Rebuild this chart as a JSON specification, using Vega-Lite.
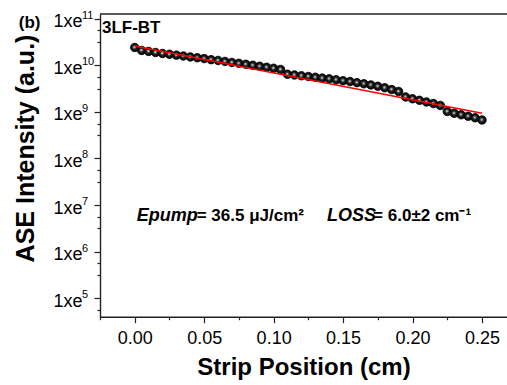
{
  "$schema": "https://vega.github.io/schema/vega-lite/v6.json",
  "width": 407,
  "height": 302.7,
  "autosize": {"type": "none"},
  "padding": {"left": 100, "top": 14, "right": 0, "bottom": 68.3},
  "config": {
    "view": {"stroke": null},
    "font": "Liberation Sans",
    "axis": {
      "grid": false,
      "domainColor": "#222",
      "domainWidth": 1.4,
      "tickColor": "#222",
      "tickWidth": 1.2,
      "labelFont": "Liberation Sans",
      "labelFontSize": 18,
      "labelColor": "#000",
      "labelFlush": false,
      "labelOverlap": false,
      "labelBound": false,
      "titleFont": "Liberation Sans",
      "titleFontSize": 24,
      "titleFontWeight": "bold",
      "titleColor": "#000"
    }
  },
  "datasets": {
    "ase": [
      {"pos": 0.000, "ase": 2.41e10},
      {"pos": 0.005, "ase": 2.08e10},
      {"pos": 0.010, "ase": 1.98e10},
      {"pos": 0.015, "ase": 1.88e10},
      {"pos": 0.020, "ase": 1.79e10},
      {"pos": 0.025, "ase": 1.72e10},
      {"pos": 0.030, "ase": 1.65e10},
      {"pos": 0.035, "ase": 1.58e10},
      {"pos": 0.040, "ase": 1.51e10},
      {"pos": 0.045, "ase": 1.45e10},
      {"pos": 0.050, "ase": 1.39e10},
      {"pos": 0.055, "ase": 1.32e10},
      {"pos": 0.060, "ase": 1.27e10},
      {"pos": 0.065, "ase": 1.21e10},
      {"pos": 0.070, "ase": 1.15e10},
      {"pos": 0.075, "ase": 1.10e10},
      {"pos": 0.080, "ase": 1.05e10},
      {"pos": 0.085, "ase": 1.00e10},
      {"pos": 0.090, "ase": 9.53e9},
      {"pos": 0.095, "ase": 9.06e9},
      {"pos": 0.100, "ase": 8.63e9},
      {"pos": 0.105, "ase": 8.13e9},
      {"pos": 0.110, "ase": 6.41e9},
      {"pos": 0.115, "ase": 6.19e9},
      {"pos": 0.120, "ase": 5.96e9},
      {"pos": 0.125, "ase": 5.75e9},
      {"pos": 0.130, "ase": 5.53e9},
      {"pos": 0.135, "ase": 5.31e9},
      {"pos": 0.140, "ase": 5.11e9},
      {"pos": 0.145, "ase": 4.89e9},
      {"pos": 0.150, "ase": 4.67e9},
      {"pos": 0.155, "ase": 4.47e9},
      {"pos": 0.160, "ase": 4.24e9},
      {"pos": 0.165, "ase": 4.01e9},
      {"pos": 0.170, "ase": 3.78e9},
      {"pos": 0.175, "ase": 3.54e9},
      {"pos": 0.180, "ase": 3.29e9},
      {"pos": 0.185, "ase": 3.01e9},
      {"pos": 0.190, "ase": 2.74e9},
      {"pos": 0.195, "ase": 2.09e9},
      {"pos": 0.200, "ase": 1.91e9},
      {"pos": 0.205, "ase": 1.77e9},
      {"pos": 0.210, "ase": 1.63e9},
      {"pos": 0.215, "ase": 1.51e9},
      {"pos": 0.220, "ase": 1.37e9},
      {"pos": 0.225, "ase": 1.02e9},
      {"pos": 0.230, "ase": 9.33e8},
      {"pos": 0.235, "ase": 8.67e8},
      {"pos": 0.240, "ase": 8.05e8},
      {"pos": 0.245, "ase": 7.47e8},
      {"pos": 0.250, "ase": 6.70e8}
    ],
    "fit": [
      {"pos": 0.0, "ase": 2.6e10},
      {"pos": 0.25, "ase": 9.33e8}
    ],
    "decades": [
      {"v": 1e5, "e": "5"},
      {"v": 1e6, "e": "6"},
      {"v": 1e7, "e": "7"},
      {"v": 1e8, "e": "8"},
      {"v": 1e9, "e": "9"},
      {"v": 1e10, "e": "10"},
      {"v": 1e11, "e": "11"}
    ]
  },
  "resolve": {"axis": {"x": "independent"}},
  "layer": [
    {
      "data": {"values": [{"edge": "top"}]},
      "mark": {"type": "rule", "color": "#222", "strokeWidth": 1.4},
      "encoding": {
        "y": {"datum": 125900000000, "type": "quantitative", "scale": {"type": "log"}}
      }
    },
    {
      "data": {"name": "ase"},
      "mark": {
        "type": "circle",
        "size": 72,
        "opacity": 1,
        "stroke": "#000",
        "strokeWidth": 0.8,
        "fill": {
          "gradient": "radial",
          "x1": 0.45, "y1": 0.45, "r1": 0,
          "x2": 0.5, "y2": 0.5, "r2": 0.55,
          "stops": [
            {"offset": 0, "color": "#ffffff"},
            {"offset": 0.15, "color": "#b0b0b0"},
            {"offset": 0.4, "color": "#222222"},
            {"offset": 1, "color": "#000000"}
          ]
        }
      },
      "encoding": {
        "x": {
          "field": "pos",
          "type": "quantitative",
          "scale": {"domain": [-0.025, 0.268], "nice": false, "zero": false},
          "axis": {
            "orient": "bottom",
            "title": "Strip Position (cm)",
            "titleY": 58,
            "titleBaseline": "alphabetic",
            "values": [0, 0.05, 0.1, 0.15, 0.2, 0.25],
            "format": ".2f",
            "tickSize": 6,
            "labelPadding": 7
          }
        },
        "y": {
          "field": "ase",
          "type": "quantitative",
          "scale": {"type": "log", "domain": [40270, 125900000000], "nice": false},
          "axis": {
            "title": "ASE Intensity (a.u.)",
            "titleX": -67,
            "titleY": 134,
            "titleBaseline": "alphabetic",
            "titleFontSize": 25,
            "values": [56234.13, 100000, 316227.8, 562341.3, 1000000, 3162278, 5623413, 10000000, 31622777, 56234133, 100000000, 316227766, 562341325, 1000000000, 3162277660, 5623413252, 10000000000, 31622776602, 56234132519, 100000000000],
            "labelExpr": "abs(log(datum.value)/LN10 - round(log(datum.value)/LN10)) > 0.01 ? '' : '1xe'",
            "tickSize": {"condition": {"test": "abs(log(datum.value)/LN10 - round(log(datum.value)/LN10)) > 0.01", "value": 3}, "value": 6},
            "labelPadding": 12,
            "labelOffset": 3
          }
        }
      }
    },
    {
      "data": {"name": "fit"},
      "mark": {"type": "line", "color": "#ff0000", "strokeWidth": 1.6},
      "encoding": {
        "x": {
          "field": "pos",
          "type": "quantitative",
          "axis": {
            "orient": "bottom",
            "title": null,
            "values": [-0.025, 0.025, 0.075, 0.125, 0.175, 0.225],
            "labels": false,
            "domain": false,
            "tickSize": 3
          }
        },
        "y": {"field": "ase", "type": "quantitative"}
      }
    },
    {
      "data": {"name": "decades"},
      "mark": {"type": "text", "align": "left", "baseline": "alphabetic", "dx": -18, "fontSize": 11, "color": "#000"},
      "encoding": {
        "x": {"datum": -0.025, "type": "quantitative", "axis": null},
        "y": {"field": "v", "type": "quantitative"},
        "text": {"field": "e"}
      }
    },
    {
      "data": {"values": [{"label": "3LF-BT"}]},
      "mark": {"type": "text", "align": "left", "baseline": "alphabetic", "fontSize": 17, "fontWeight": "bold", "color": "#000"},
      "encoding": {
        "x": {"datum": -0.0236, "type": "quantitative", "axis": null},
        "y": {"datum": 48700000000, "type": "quantitative"},
        "text": {"field": "label"}
      }
    },
    {
      "data": {"values": [{"label": "(b)"}]},
      "mark": {"type": "text", "align": "left", "baseline": "alphabetic", "fontSize": 17, "fontWeight": "bold", "color": "#000"},
      "encoding": {
        "x": {"datum": -0.0835, "type": "quantitative", "axis": null},
        "y": {"datum": 63100000000, "type": "quantitative"},
        "text": {"field": "label"}
      }
    },
    {
      "data": {"values": [{"label": "Epump", "pos": 0.0014}, {"label": "LOSS", "pos": 0.1385}]},
      "mark": {"type": "text", "align": "left", "baseline": "alphabetic", "fontSize": 18, "fontWeight": "bold", "fontStyle": "italic", "color": "#000"},
      "encoding": {
        "x": {"field": "pos", "type": "quantitative", "axis": null},
        "y": {"datum": 4560000, "type": "quantitative"},
        "text": {"field": "label"}
      }
    },
    {
      "data": {"values": [{"label": "= 36.5 μJ/cm²", "pos": 0.0446}, {"label": "= 6.0±2 cm⁻¹", "pos": 0.1716}]},
      "mark": {"type": "text", "align": "left", "baseline": "alphabetic", "fontSize": 17, "fontWeight": "bold", "color": "#000"},
      "encoding": {
        "x": {"field": "pos", "type": "quantitative", "axis": null},
        "y": {"datum": 4560000, "type": "quantitative"},
        "text": {"field": "label"}
      }
    }
  ]
}
